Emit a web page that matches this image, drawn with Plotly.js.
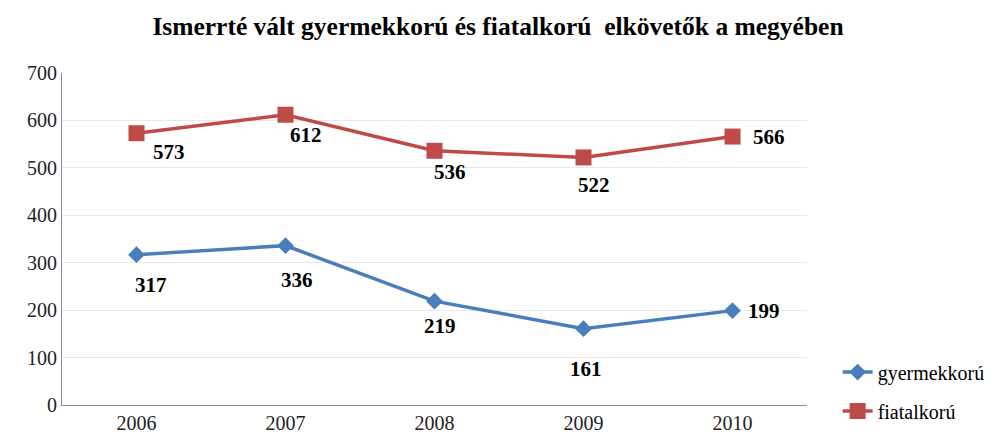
<!DOCTYPE html>
<html>
<head>
<meta charset="utf-8">
<script src="https://cdn.plot.ly/plotly-3.0.1.min.js"></script>
<style>
	body { margin: 0; background: #fff; }
	#chart { width: 996px; height: 440px; }
</style>
</head>
<body>
<div id="chart"></div>
<script>
let years = ['2006', '2007', '2008', '2009', '2010'];
let gyermekkoru = [317, 336, 219, 161, 199];
let fiatalkoru = [573, 612, 536, 522, 566];

// label offsets in pixels (kept apart from the values)
let gyermekShiftX = [14, 11, 5, 2, 31];
let gyermekShiftY = [-30, -34, -25, -40, 0];
let fiatalShiftX = [32, 20, 15, 10, 36];
let fiatalShiftY = [-19, -20, -21, -28, 0];

let serif = 'Liberation Serif, Times New Roman, serif';

function makeLabels(values, dx, dy) {
	let out = [];
	for (let i = 0; i < values.length; i++) {
		// category axis: annotation x is the category index
		out.push({
			x: i,
			y: values[i],
			xref: 'x',
			yref: 'y',
			text: String(values[i]),
			showarrow: false,
			xshift: dx[i],
			yshift: dy[i],
			font: { family: serif, size: 21, color: '#000', weight: 'bold' }
		});
	}
	return out;
}

let gyermek = {
	x: years,
	y: gyermekkoru,
	name: 'gyermekkorú',
	legendgroup: 'g',
	mode: 'lines+markers',
	type: 'scatter',
	line: { color: '#4a7ebb', width: 3.5 },
	marker: { symbol: 'diamond', size: 13, color: '#4a7ebb' },
	cliponaxis: false
};

let fiatal = {
	x: years,
	y: fiatalkoru,
	name: 'fiatalkorú',
	legendgroup: 'f',
	mode: 'lines+markers',
	type: 'scatter',
	line: { color: '#be4b48', width: 3.5 },
	marker: { symbol: 'square', size: 16, color: '#be4b48' },
	cliponaxis: false
};

let layout = {
	width: 996,
	height: 440,
	margin: { l: 62, r: 189, t: 73, b: 35 },
	paper_bgcolor: '#fff',
	plot_bgcolor: '#fff',
	font: { family: serif, size: 20, color: '#222' },
	title: {
		text: 'Ismerrté vált gyermekkorú és fiatalkorú  elkövetők a megyében',
		font: { family: serif, size: 25.5, color: '#000', weight: 'bold' },
		x: 0.5, xanchor: 'center', y: 0.94, yanchor: 'middle'
	},
	xaxis: {
		type: 'category',
		range: [-0.5, 4.5],
		showgrid: false,
		showline: true,
		linecolor: '#8c8c8c',
		linewidth: 1,
		ticks: '',
		tickfont: { family: serif, size: 20, color: '#222' },
		fixedrange: true
	},
	yaxis: {
		range: [0, 700],
		dtick: 100,
		showgrid: true,
		gridcolor: '#e8e8e8',
		showline: true,
		linecolor: '#8c8c8c',
		linewidth: 1,
		zeroline: false,
		ticks: '',
		tickfont: { family: serif, size: 20, color: '#222' },
		fixedrange: true
	},
	annotations: makeLabels(fiatalkoru, fiatalShiftX, fiatalShiftY)
		.concat(makeLabels(gyermekkoru, gyermekShiftX, gyermekShiftY)),
	showlegend: true,
	legend: {
		xref: 'container', yref: 'container',
		x: 0.841, xanchor: 'left',
		y: 0.11, yanchor: 'middle',
		font: { family: serif, size: 20, color: '#000' },
		bgcolor: 'rgba(0,0,0,0)',
		tracegroupgap: 10
	}
};

Plotly.newPlot('chart', [gyermek, fiatal], layout, { displayModeBar: false, staticPlot: true });
</script>
</body>
</html>
